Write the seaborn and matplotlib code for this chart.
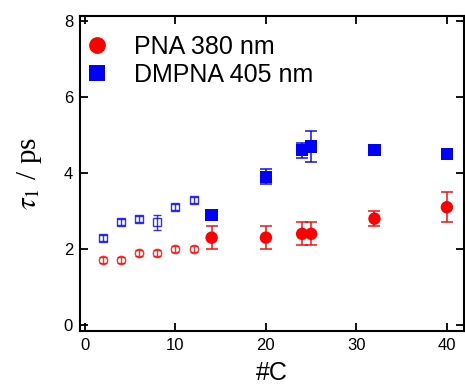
import numpy as np
import pandas as pd
import matplotlib
matplotlib.use("Agg")
import matplotlib.pyplot as plt
import seaborn as sns

# carbon number
nc_open = [2, 4, 6, 8, 10, 12]
nc_fill = [14, 20, 24, 25, 32, 40]

# PNA 380 nm
pna_open = [1.7, 1.7, 1.9, 1.9, 2.0, 2.0]
pna_open_err = [0.08, 0.08, 0.08, 0.08, 0.08, 0.08]
pna_fill = [2.3, 2.3, 2.4, 2.4, 2.8, 3.1]
pna_fill_err = [0.3, 0.3, 0.3, 0.3, 0.2, 0.4]

# DMPNA 405 nm
dm_open = [2.3, 2.7, 2.8, 2.7, 3.1, 3.3]
dm_open_err = [0.08, 0.08, 0.08, 0.2, 0.08, 0.08]
dm_fill = [2.9, 3.9, 4.6, 4.7, 4.6, 4.5]
dm_fill_err = [0.05, 0.2, 0.2, 0.4, 0.05, 0.05]

labels = ["PNA 380 nm", "DMPNA 405 nm"]
colors = ["#ff0000", "#0000ff"]

sns.set_theme(style="ticks")
plt.rcParams['font.family'] = ['Liberation Sans', 'DejaVu Sans']
plt.rcParams['mathtext.fontset'] = 'stix'
for k in ['text.color', 'axes.labelcolor', 'xtick.color', 'ytick.color', 'axes.edgecolor']:
    plt.rcParams[k] = 'black'

fig = plt.figure(figsize=(4.65, 3.91), dpi=100)
ax = fig.add_axes([0.172, 0.154, 0.826, 0.806])

df = pd.DataFrame({
    "nc": nc_fill * 2,
    "tau": pna_fill + dm_fill,
    "sample": [labels[0]] * 6 + [labels[1]] * 6,
})

# error bars first
ax.errorbar(nc_fill, pna_fill, yerr=pna_fill_err, fmt='none', ecolor=colors[0],
            elinewidth=1.3, capsize=4, capthick=1.3, alpha=0.8)
ax.errorbar(nc_fill, dm_fill, yerr=dm_fill_err, fmt='none', ecolor=colors[1],
            elinewidth=1.3, capsize=4, capthick=1.3, alpha=0.8)
ax.errorbar(nc_open, pna_open, yerr=pna_open_err, fmt='o', mfc='none', mec=colors[0],
            ms=6, mew=1.0, ecolor=colors[0], elinewidth=1.0, capsize=3, alpha=0.8)
ax.errorbar(nc_open, dm_open, yerr=dm_open_err, fmt='s', mfc='none', mec=colors[1],
            ms=6, mew=1.0, ecolor=colors[1], elinewidth=1.0, capsize=3, alpha=0.8)

sns.scatterplot(data=df, x="nc", y="tau", hue="sample", style="sample",
                palette=colors, markers=["o", "s"], s=80, linewidth=0,
                ax=ax, legend=True, zorder=5)

ax.set_xlim(-0.55, 41.9)
ax.set_ylim(-0.15, 8.14)
ax.set_xticks([0, 10, 20, 30, 40])
ax.set_yticks([0, 2, 4, 6, 8])
ax.tick_params(direction='in', length=6, width=1.3, labelsize=12,
               top=True, right=True, colors='black', pad=5)
for sp in ax.spines.values():
    sp.set_linewidth(1.5)
    sp.set_color('black')

ax.set_xlabel("#C", fontsize=18, labelpad=6)
ax.set_ylabel(r"$\tau_1$ / ps", fontsize=21, family=['Liberation Serif'], labelpad=14)

h, l = ax.get_legend_handles_labels()
ax.legend(h, l, loc='upper left', frameon=False, fontsize=18, markerscale=1.35,
          handlelength=0.8, handletextpad=1.06, borderaxespad=0.0, borderpad=0.3,
          labelspacing=0.15, bbox_to_anchor=(0.0, 0.962))

fig.savefig("out.png", dpi=100)
